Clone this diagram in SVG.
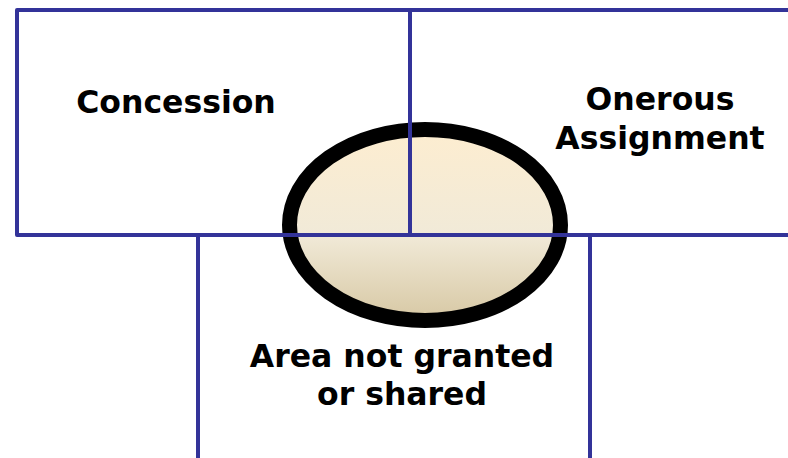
<svg xmlns="http://www.w3.org/2000/svg" width="788" height="458" viewBox="0 0 788 458">
<style>
.ln{fill:none;stroke:#333399;stroke-width:4;stroke-linejoin:round}
.t{font-family:"DejaVu Sans","Verdana",sans-serif;font-weight:bold;font-size:31.5px;fill:#000;text-anchor:middle}
</style>
<defs>
<linearGradient id="g" x1="0" y1="0" x2="0" y2="1">
<stop offset="0" stop-color="#FDEDD0"/>
<stop offset="0.55" stop-color="#F1EAD8"/>
<stop offset="1" stop-color="#D7C8A4"/>
</linearGradient>
</defs>
<rect width="788" height="458" fill="#fff"/>
<g id="overlap">
<ellipse cx="425" cy="225" rx="135.5" ry="95.5" fill="url(#g)" stroke="#000" stroke-width="15"/>
</g>
<g id="connectors">
<path class="ln" d="M788,10 H17 V235 H788"/>
<path class="ln" d="M410,10 V235"/>
<path class="ln" d="M198,235 V458"/>
<path class="ln" d="M590,235 V458"/>
</g>
<g id="concession">
<text class="t" x="176" y="113">Concession</text>
</g>
<g id="onerous">
<text class="t" x="660" y="110">Onerous</text>
<text class="t" x="660" y="149">Assignment</text>
</g>
<g id="area">
<text class="t" x="402" y="367">Area not granted</text>
<text class="t" x="402" y="405">or shared</text>
</g>
</svg>
